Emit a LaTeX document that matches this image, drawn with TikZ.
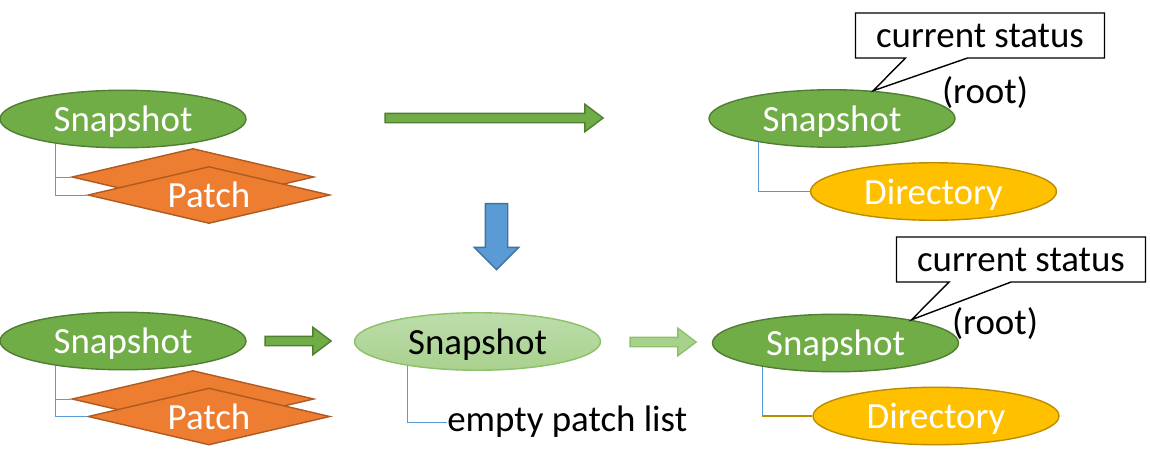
\documentclass[tikz,border=0pt]{standalone}
\usepackage{fontspec}
\setmainfont{Carlito}
\usetikzlibrary{shapes.geometric,shapes.arrows,shapes.callouts}

\definecolor{snapfill}{HTML}{70AD47}
\definecolor{snapline}{HTML}{507E32}
\definecolor{patchfill}{HTML}{ED7D31}
\definecolor{patchline}{HTML}{AE5A21}
\definecolor{dirfill}{HTML}{FFC000}
\definecolor{dirline}{HTML}{BC8C00}
\definecolor{downfill}{HTML}{5B9BD5}
\definecolor{downline}{HTML}{41719C}
\definecolor{palefill}{HTML}{A9D18E}
\definecolor{paletop}{HTML}{BCDDAA}
\definecolor{paleline}{HTML}{8CC168}

\begin{document}
\begin{tikzpicture}[
  font=\fontsize{21}{25}\selectfont,
  snap/.style={ellipse, draw=snapline, fill=snapfill, text=white, line width=0.8pt,
    minimum width=4.92cm, minimum height=1.15cm, inner sep=0, text depth=0pt},
  pale/.style={snap, draw=paleline, top color=paletop, bottom color=palefill, text=black},
  dir/.style={snap, draw=dirline, fill=dirfill},
  patch/.style={diamond, aspect=4.25, draw=patchline, fill=patchfill, text=white,
    line width=0.8pt, minimum width=4.84cm, minimum height=1.14cm, inner sep=0},
  flow/.style={single arrow, draw=snapline, fill=snapfill, line width=0.8pt,
    inner sep=0, inner ysep=0.08cm, minimum width=0.52cm,
    single arrow head extend=0.18cm, single arrow tip angle=74},
  note/.style={rectangle callout, draw, fill=white, line width=0.8pt,
    minimum width=4.98cm, minimum height=0.9cm, callout pointer width=1.24cm},
  link/.style={draw=downfill, line width=0.5pt},
  dirlink/.style={draw=dirline, line width=0.8pt}
]
\useasboundingbox (0,0) rectangle (23,-9.32);

% top row
\node[snap] (snapA) at (2.46,-2.38) {Snapshot};
\node[patch] (patchA1) at (3.86,-3.54) {};
\node[patch] (patchA2) at (4.18,-3.9) {Patch};
\draw[link] (snapA.200) |- (patchA1.west);
\draw[link] (snapA.200) |- (patchA2.west);

\node[flow, minimum height=4.36cm] (flowA) at (9.82,-2.36) {};
\node[flow, draw=downline, fill=downfill, rotate=-90, inner ysep=0.21cm,
  minimum width=0.86cm, single arrow head extend=0.22cm, single arrow tip angle=90,
  minimum height=1.32cm] (downA) at (9.93,-4.62) {};

\node[snap] (snapB) at (16.64,-2.37) {Snapshot};
\node[dir] (dirB) at (18.67,-3.83) {Directory};
\draw[link] (snapB.198) -- (snapB.198 |- dirB.west);
\draw[dirlink] (snapB.198 |- dirB.west) -- (dirB.west);
\node[note, callout absolute pointer={(snapB.34)}] (noteB) at (19.6,-0.71) {current status};
\node (rootB) at (19.7,-1.86) {(root)};

% bottom row
\node[snap] (snapC) at (2.46,-6.82) {Snapshot};
\node[patch] (patchC1) at (3.86,-7.98) {};
\node[patch] (patchC2) at (4.18,-8.33) {Patch};
\draw[link] (snapC.200) |- (patchC1.west);
\draw[link] (snapC.200) |- (patchC2.west);

\node[flow, minimum height=1.32cm] (flowB) at (5.9,-6.82) {};

\node[pale] (snapD) at (9.55,-6.83) {Snapshot};
\node[anchor=west, inner sep=0] (listD) at (8.94,-8.44) {empty patch list};
\draw[link] (snapD.199) |- (listD.west);

\node[flow, draw=paleline, fill=palefill, minimum height=1.32cm] (flowC) at (13.2,-6.84) {};

\node[snap] (snapE) at (16.71,-6.86) {Snapshot};
\node[dir] (dirE) at (18.72,-8.32) {Directory};
\draw[link] (snapE.198) -- (snapE.198 |- dirE.west);
\draw[dirlink] (snapE.198 |- dirE.west) -- (dirE.west);
\node[note, callout absolute pointer={(snapE.17)}] (noteE) at (20.42,-5.19) {current status};
\node (rootE) at (19.9,-6.48) {(root)};
\end{tikzpicture}
\end{document}
